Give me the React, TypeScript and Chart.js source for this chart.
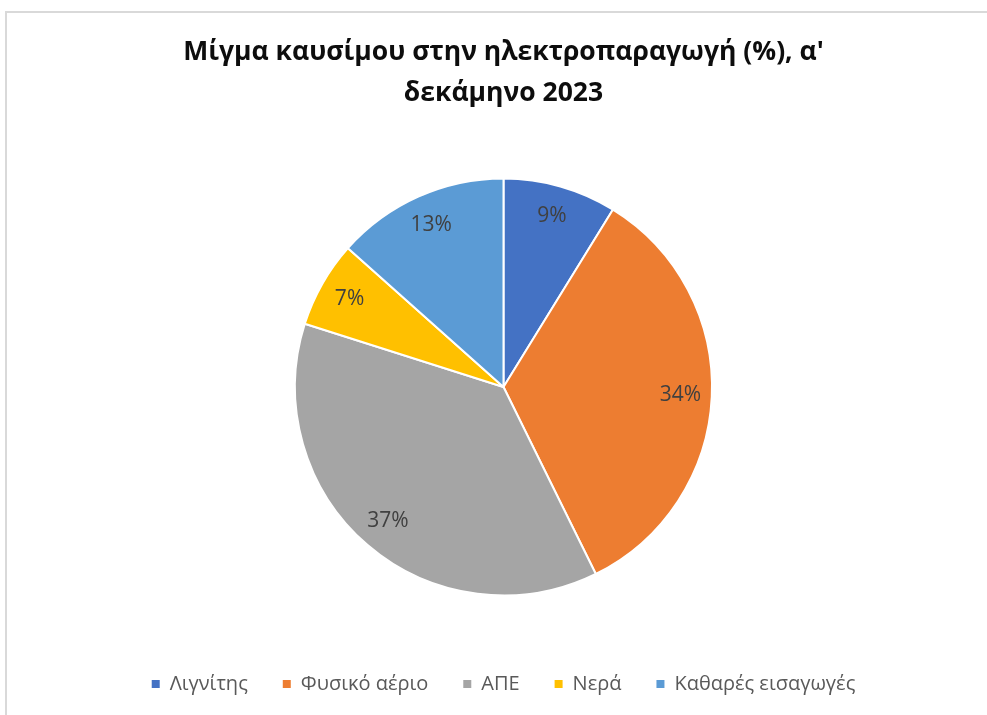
import React, { useEffect, useRef } from "react";
import { Chart, registerables } from "chart.js";

Chart.register(...registerables);

const titleLines = ["Μίγμα καυσίμου στην ηλεκτροπαραγωγή (%), α'", "δεκάμηνο 2023"];
const categories = ["Λιγνίτης", "Φυσικό αέριο", "ΑΠΕ", "Νερά", "Καθαρές εισαγωγές"];
const shares = [8.8, 33.9, 37.2, 6.7, 13.4];
const sliceColors = ["#4472C4", "#ED7D31", "#A5A5A5", "#FFC000", "#5B9BD5"];

const FONT = "'Open Sans', sans-serif";

const pieLabels = {
  id: "pieLabels",
  afterDatasetsDraw(chart: any) {
    const ctx = chart.ctx;
    const meta = chart.getDatasetMeta(0);
    const data = chart.data.datasets[0].data as number[];
    ctx.save();
    ctx.font = `21px ${FONT}`;
    ctx.fillStyle = "#404040";
    ctx.textAlign = "center";
    ctx.textBaseline = "middle";
    meta.data.forEach((arc: any, i: number) => {
      const p = arc.getProps(["x", "y", "startAngle", "endAngle", "outerRadius"], true);
      const mid = (p.startAngle + p.endAngle) / 2;
      const r = p.outerRadius * 0.85;
      ctx.fillText(`${Math.round(data[i])}%`, p.x + Math.cos(mid) * r, p.y + Math.sin(mid) * r);
    });
    ctx.restore();
  },
};

export default function App() {
  const ref = useRef<HTMLCanvasElement | null>(null);
  useEffect(() => {
    if (!ref.current) return;
    const chart = new Chart(ref.current, {
      type: "pie",
      data: {
        labels: categories,
        datasets: [
          {
            data: shares,
            backgroundColor: sliceColors,
            borderColor: "#ffffff",
            borderWidth: 2,
            radius: 208.5,
          } as any,
        ],
      },
      options: {
        responsive: false,
        animation: false,
        layout: { padding: { top: 0, bottom: 11, left: 0, right: 0 } },
        plugins: {
          tooltip: { enabled: false },
          title: {
            display: true,
            text: titleLines,
            color: "#0d0d0d",
            font: { family: FONT, size: 26.5, weight: "bold", lineHeight: 41 / 26.5 } as any,
            padding: { top: 32, bottom: 21 },
          },
          legend: {
            position: "bottom",
            labels: {
              color: "#595959",
              font: { family: FONT, size: 20 },
              boxWidth: 8,
              boxHeight: 8,
              padding: 35,
              generateLabels: (c: any) =>
                (Chart as any).overrides.pie.plugins.legend.labels
                  .generateLabels(c)
                  .map((l: any) => ({ ...l, lineWidth: 0, strokeStyle: "rgba(0,0,0,0)" })),
            },
          },
        },
      },
      plugins: [pieLabels],
    });
    return () => chart.destroy();
  }, []);

  return (
    <div style={{ position: "fixed", left: 0, top: 0, width: 987, height: 715, overflow: "hidden", background: "#fff" }}>
      <div
        style={{
          position: "absolute",
          left: 5,
          top: 11,
          width: 1100,
          height: 800,
          border: "2px solid #d9d9d9",
          boxSizing: "border-box",
        }}
      />
      <canvas
        ref={ref}
        width={993}
        height={715}
        style={{ position: "absolute", left: 7, top: 0, width: 993, height: 715 }}
      />
    </div>
  );
}
